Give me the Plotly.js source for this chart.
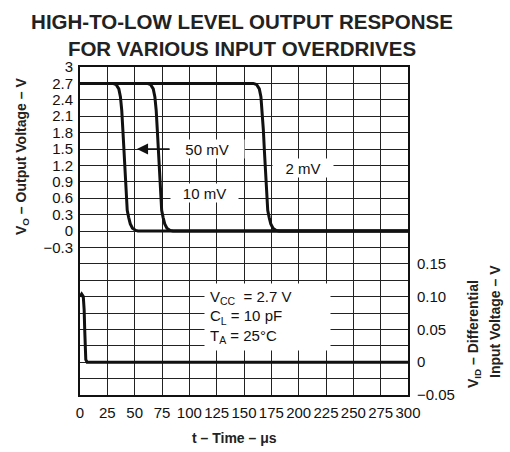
<!DOCTYPE html>
<html>
<head>
<meta charset="utf-8">
<script src="https://cdn.plot.ly/plotly-3.0.1.min.js"></script>
<style>html,body{margin:0;padding:0;background:#fff;}#chart{width:510px;height:452px;}</style>
</head>
<body>
<div id="chart"></div>
<script>
// ---- data ----
var timeTicks = [0, 25, 50, 75, 100, 125, 150, 175, 200, 225, 250, 275, 300];

var outTickVals = [3, 2.7, 2.4, 2.1, 1.8, 1.5, 1.2, 0.9, 0.6, 0.3, 0, -0.3];
var outTickText = ['3', '2.7', '2.4', '2.1', '1.8', '1.5', '1.2', '0.9', '0.6', '0.3', '0', '\u22120.3'];

var inTickVals = [0.15, 0.10, 0.05, 0, -0.05];
var inTickText = ['0.15', '0.10', '0.05', '0', '\u22120.05'];

var t50 = [0, 30, 33, 35.5, 37, 38.2, 39.2, 40.2, 41.2, 42.2, 43.2, 44.5, 46, 48, 51, 53, 300];
var t10 = [0, 61.5, 64.5, 67, 68.5, 69.7, 70.7, 71.7, 72.7, 73.7, 74.7, 76, 77.5, 79.5, 82.5, 85, 300];
var t2  = [0, 158.5, 161.5, 164, 165.5, 166.7, 167.7, 168.7, 169.7, 170.7, 171.7, 173, 174.5, 176.5, 179.5, 182, 300];
var vOut50 = [2.7, 2.7, 2.68, 2.6, 2.45, 2.2, 1.85, 1.45, 1.05, 0.65, 0.38, 0.25, 0.13, 0.05, 0.01, 0, 0];
var vOut10 = [2.7, 2.7, 2.68, 2.6, 2.45, 2.2, 1.85, 1.45, 1.05, 0.65, 0.38, 0.25, 0.13, 0.05, 0.01, 0, 0];
var vOut2  = [2.7, 2.7, 2.68, 2.6, 2.45, 2.2, 1.85, 1.45, 1.05, 0.65, 0.38, 0.25, 0.13, 0.05, 0.01, 0, 0];

var tIn = [0, 1.5, 3, 3.8, 4.3, 4.8, 5.3, 6.5, 300];
var vIn = [0.10, 0.104, 0.10, 0.08, 0.05, 0.02, 0.004, 0, 0];

// ---- chart ----
var FONT = 'Liberation Sans, Arial, Helvetica, sans-serif';
var lineStyle = {color: '#111', width: 3};

var traces = [
  {x: t50, y: vOut50, mode: 'lines', line: lineStyle, yaxis: 'y', hoverinfo: 'skip'},
  {x: t10, y: vOut10, mode: 'lines', line: lineStyle, yaxis: 'y', hoverinfo: 'skip'},
  {x: t2,  y: vOut2,  mode: 'lines', line: lineStyle, yaxis: 'y', hoverinfo: 'skip'},
  {x: tIn, y: vIn,    mode: 'lines', line: lineStyle, yaxis: 'y2', hoverinfo: 'skip'}
];

var annFont = {family: FONT, size: 15, color: '#111'};
var layout = {
  width: 510, height: 452,
  margin: {l: 80, r: 102, t: 67, b: 57, pad: 0},
  paper_bgcolor: '#fff', plot_bgcolor: '#fff',
  showlegend: false,
  font: {family: FONT, size: 15, color: '#111'},
  title: {
    text: 'HIGH-TO-LOW LEVEL OUTPUT RESPONSE<br>FOR VARIOUS INPUT OVERDRIVES',
    font: {family: FONT, size: 20.5, weight: 700, color: '#222'},
    x: 0.4745, xanchor: 'center', xref: 'container',
    y: 1 - 29/452, yanchor: 'middle', yref: 'container'
  },
  xaxis: {
    range: [0, 300], tickmode: 'array', tickvals: timeTicks,
    ticktext: timeTicks.map(String),
    showgrid: true, gridcolor: '#222', gridwidth: 1,
    zeroline: false, showline: true, linecolor: '#111', linewidth: 2, mirror: true,
    ticks: '', ticklabelstandoff: 3,
    tickfont: {family: FONT, size: 15, color: '#111'}
  },
  yaxis: {
    range: [-3, 3], tickmode: 'array', tickvals: outTickVals, ticktext: outTickText,
    showgrid: true, gridcolor: '#222', gridwidth: 1,
    minor: {tickmode: 'linear', tick0: 0, dtick: 0.3, showgrid: true, gridcolor: '#222', gridwidth: 1, ticks: ''},
    zeroline: false, showline: true, linecolor: '#111', linewidth: 2, mirror: true,
    ticks: '', ticklabelstandoff: 2,
    tickfont: {family: FONT, size: 15, color: '#111'}
  },
  yaxis2: {
    range: [-0.05, 0.45], overlaying: 'y', side: 'right',
    tickmode: 'array', tickvals: inTickVals, ticktext: inTickText,
    showgrid: false, zeroline: false, showline: false,
    ticks: '', ticklabelstandoff: 8,
    tickfont: {family: FONT, size: 15, color: '#111'}
  },
  annotations: [
    {x: 52, y: 1.5, xref: 'x', yref: 'y', ax: 116.2, ay: 1.5, axref: 'x', ayref: 'y',
     text: '50 mV', showarrow: true, arrowhead: 2, arrowsize: 1.6, arrowwidth: 1.4,
     arrowcolor: '#111', bgcolor: '#fff', width: 72, height: 16, borderpad: 1, font: annFont},
    {x: 113.8, y: 0.69, xref: 'x', yref: 'y', text: '10 mV', showarrow: false,
     bgcolor: '#fff', width: 65, height: 16, borderpad: 1, font: annFont},
    {x: 204, y: 1.147, xref: 'x', yref: 'y', text: '2 mV', showarrow: false,
     bgcolor: '#fff', width: 58, height: 16, borderpad: 1, font: annFont},
    {x: 171.5, y: -1.573, xref: 'x', yref: 'y',
     text: 'V<sub>CC</sub>  = 2.7 V<br>C<sub>L</sub> = 10 pF<br>T<sub>A</sub> = 25°C',
     showarrow: false, align: 'left', bgcolor: '#fff', width: 115, height: 56, borderpad: 5,
     font: {family: FONT, size: 15, color: '#111'}},
    // axis titles
    {x: (22 - 80) / 328, y: (395 - 157) / 328, xref: 'paper', yref: 'paper',
     text: 'V<sub>O</sub> – Output Voltage – V', textangle: -90, showarrow: false,
     xanchor: 'center', yanchor: 'middle',
     font: {family: FONT, size: 14, weight: 700, color: '#222'}},
    {x: (234.6 - 80) / 328, y: (395 - 438) / 328, xref: 'paper', yref: 'paper',
     text: 't – Time – μs', showarrow: false, xanchor: 'center', yanchor: 'middle',
     font: {family: FONT, size: 14, weight: 700, color: '#222'}},
    {x: (474 - 80) / 328, y: (395 - 334) / 328, xref: 'paper', yref: 'paper',
     text: 'V<sub>ID</sub> – Differential', textangle: -90, showarrow: false,
     xanchor: 'center', yanchor: 'middle',
     font: {family: FONT, size: 14, weight: 700, color: '#222'}},
    {x: (495 - 80) / 328, y: (395 - 321) / 328, xref: 'paper', yref: 'paper',
     text: 'Input Voltage – V', textangle: -90, showarrow: false,
     xanchor: 'center', yanchor: 'middle',
     font: {family: FONT, size: 14, weight: 700, color: '#222'}}
  ]
};

Plotly.newPlot('chart', traces, layout, {staticPlot: true, displayModeBar: false});
</script>
</body>
</html>
